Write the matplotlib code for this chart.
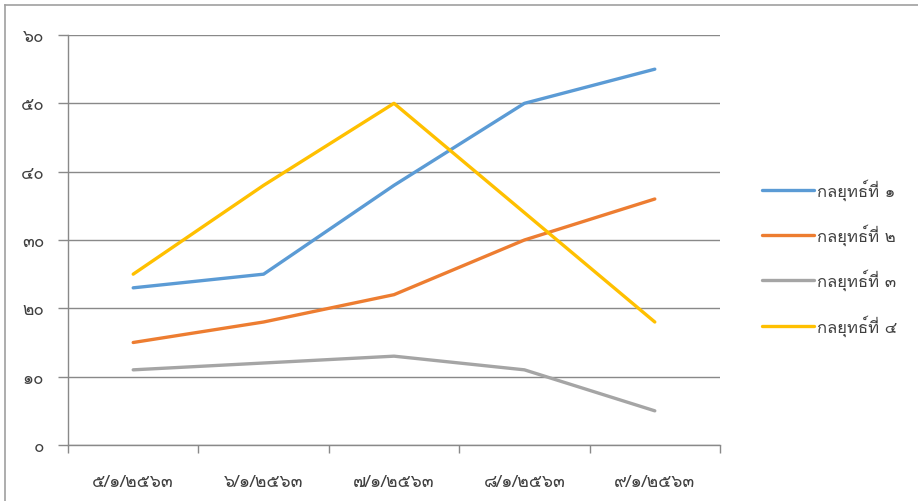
import matplotlib
matplotlib.use("Agg")
import matplotlib.pyplot as plt
from matplotlib.lines import Line2D
from matplotlib.ticker import FixedLocator

plt.rcParams['font.family'] = ['Loma', 'DejaVu Sans']

categories = ["๕/๑/๒๕๖๓", "๖/๑/๒๕๖๓", "๗/๑/๒๕๖๓", "๘/๑/๒๕๖๓", "๙/๑/๒๕๖๓"]
series_names = ["กลยุทธ์ที่ ๑", "กลยุทธ์ที่ ๒", "กลยุทธ์ที่ ๓", "กลยุทธ์ที่ ๔"]
s1 = [23, 25, 38, 50, 55]
s2 = [15, 18, 22, 30, 36]
s3 = [11, 12, 13, 11, 5]
s4 = [25, 38, 50, 34, 18]
yticks = [0, 10, 20, 30, 40, 50, 60]
ytick_labels = ["๐", "๑๐", "๒๐", "๓๐", "๔๐", "๕๐", "๖๐"]
colors = ["#5B9BD5", "#ED7D31", "#A5A5A5", "#FFC000"]

W, H = 918, 502
fig = plt.figure(figsize=(W / 100, H / 100), dpi=100)
ax = fig.add_axes([68 / W, 1 - 446 / H, (720 - 68) / W, (446 - 36) / H])

x = list(range(len(categories)))
for vals, name, c in zip([s1, s2, s3, s4], series_names, colors):
    ax.plot(x, vals, color=c, lw=2.4, label=name, solid_capstyle='round', zorder=3)

gridc = "#898989"
ax.set_xlim(-0.5, len(categories) - 0.5)
ax.set_ylim(0, 60)
ax.set_yticks(yticks)
ax.set_yticklabels(ytick_labels)
ax.yaxis.grid(True, color=gridc, lw=1.0)
ax.set_axisbelow(True)
ax.set_xticks(x)
ax.set_xticklabels(categories)
ax.xaxis.set_minor_locator(FixedLocator([i - 0.5 for i in range(len(categories) + 1)]))
ax.tick_params(axis='x', which='major', length=0, pad=21, labelsize=12.5, colors='#404040')
ax.tick_params(axis='x', which='minor', length=6, width=1, color=gridc, direction='out')
ax.tick_params(axis='y', which='major', length=7, width=1, color=gridc, pad=10, labelsize=12.5, labelcolor='#404040')
for s in ['top', 'right']:
    ax.spines[s].set_visible(False)
for s in ['left', 'bottom']:
    ax.spines[s].set_color(gridc)
    ax.spines[s].set_linewidth(1.0)

leg = fig.legend(loc='center left', bbox_to_anchor=(747 / W, 1 - 258 / H), frameon=False,
                 fontsize=12, handlelength=3.1, handletextpad=0.2, labelspacing=1.43)
for t in leg.get_texts():
    t.set_color('#404040')

# outer chart frame (only left and top edges visible)
fig.add_artist(Line2D([5 / W, 5 / W], [0, 1 - 6 / H], transform=fig.transFigure, color="#A0A0A0", lw=1.2))
fig.add_artist(Line2D([5 / W, 1], [1 - 6 / H, 1 - 6 / H], transform=fig.transFigure, color="#A0A0A0", lw=1.2))

fig.savefig("out.png", dpi=100)
